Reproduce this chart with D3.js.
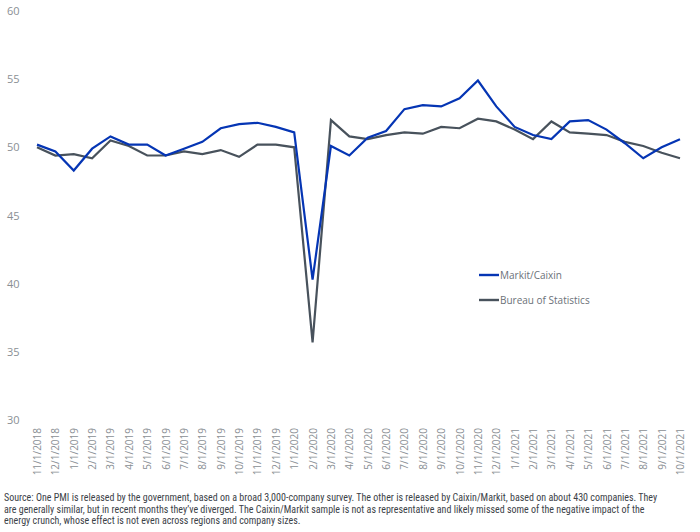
<!DOCTYPE html>
<html>
<head>
<meta charset="utf-8">
<script src="https://cdn.jsdelivr.net/npm/d3@7"></script>
<style>
  html, body { margin: 0; padding: 0; background: #fff; }
  svg { display: block; }
</style>
</head>
<body>
<svg id="chart" width="700" height="532"></svg>
<script>
const months = ["11/1/2018","12/1/2018","1/1/2019","2/1/2019","3/1/2019","4/1/2019","5/1/2019","6/1/2019","7/1/2019","8/1/2019","9/1/2019","10/1/2019","11/1/2019","12/1/2019","1/1/2020","2/1/2020","3/1/2020","4/1/2020","5/1/2020","6/1/2020","7/1/2020","8/1/2020","9/1/2020","10/1/2020","11/1/2020","12/1/2020","1/1/2021","2/1/2021","3/1/2021","4/1/2021","5/1/2021","6/1/2021","7/1/2021","8/1/2021","9/1/2021","10/1/2021"];
const markitCaixin = [50.2,49.7,48.3,49.9,50.8,50.2,50.2,49.4,49.9,50.4,51.4,51.7,51.8,51.5,51.1,40.3,50.1,49.4,50.7,51.2,52.8,53.1,53.0,53.6,54.9,53.0,51.5,50.9,50.6,51.9,52.0,51.3,50.3,49.2,50.0,50.6];
const bureauStats = [50.0,49.4,49.5,49.2,50.5,50.1,49.4,49.4,49.7,49.5,49.8,49.3,50.2,50.2,50.0,35.7,52.0,50.8,50.6,50.9,51.1,51.0,51.5,51.4,52.1,51.9,51.3,50.6,51.9,51.1,51.0,50.9,50.4,50.1,49.6,49.2];
const yTicks = [30,35,40,45,50,55,60];
const seriesNames = ["Markit/Caixin","Bureau of Statistics"];
const sourceLines = [
  "Source: One PMI is released by the government, based on a broad 3,000-company survey. The other is released by Caixin/Markit, based on about 430 companies. They",
  "are generally similar, but in recent months they\u2019ve diverged. The Caixin/Markit sample is not as representative and likely missed some of the negative impact of the",
  "energy crunch, whose effect is not even across regions and company sizes."
];

const svg = d3.select("#chart");
const font = "'Open Sans', 'Noto Sans', sans-serif";

const x = d3.scalePoint().domain(months).range([37, 680]);
const y = d3.scaleLinear().domain([30, 60]).range([420, 11]);

// Y axis labels
const yAxis = svg.append("g").attr("transform", "translate(0,0)")
  .call(d3.axisLeft(y).tickValues(yTicks).tickSize(0).tickPadding(0));
yAxis.select(".domain").remove();
yAxis.selectAll("text")
  .attr("x", 7).attr("text-anchor", "start")
  .attr("fill", "#8a8f94").style("font-family", font).style("font-size", "11px");

// X axis labels
const xAxis = svg.append("g").attr("transform", "translate(0,426)")
  .call(d3.axisBottom(x).tickSize(0).tickPadding(0));
xAxis.select(".domain").remove();
xAxis.selectAll("text")
  .attr("transform", "rotate(-90)")
  .attr("x", -2).attr("y", 0).attr("dy", "0.35em")
  .attr("text-anchor", "end")
  .attr("fill", "#8a8f94").style("font-family", font).style("font-size", "10px");

const line = d3.line().x((d, i) => x(months[i])).y(d => y(d));
const colors = ["#0535b4", "#48525c"];
[markitCaixin, bureauStats].slice().reverse().forEach((s, k) => {
  const idx = 1 - k;
  svg.append("path").datum(s)
    .attr("d", line).attr("fill", "none")
    .attr("stroke", colors[idx]).attr("stroke-width", 2.2)
    .attr("stroke-linejoin", "miter");
});

// Legend
const legend = svg.append("g");
seriesNames.forEach((n, i) => {
  const ly = 275 + i * 25;
  legend.append("line").attr("x1", 479).attr("x2", 499).attr("y1", ly).attr("y2", ly)
    .attr("stroke", colors[i]).attr("stroke-width", 2.4);
  legend.append("text").attr("x", 500).attr("y", ly).attr("dy", "0.35em")
    .attr("fill", "#6b7178").style("font-family", font).style("font-size", "10px").text(n);
});

// Source note
const note = svg.append("g");
sourceLines.forEach((t, i) => {
  note.append("text").attr("x", 4).attr("y", 501 + i * 11.5)
    .attr("fill", "#3c4248")
    .style("font-family", "'Liberation Sans Narrow', 'Roboto Condensed', sans-serif")
    .style("font-stretch", "condensed")
    .style("font-size", "10px").text(t);
});
</script>
</body>
</html>
